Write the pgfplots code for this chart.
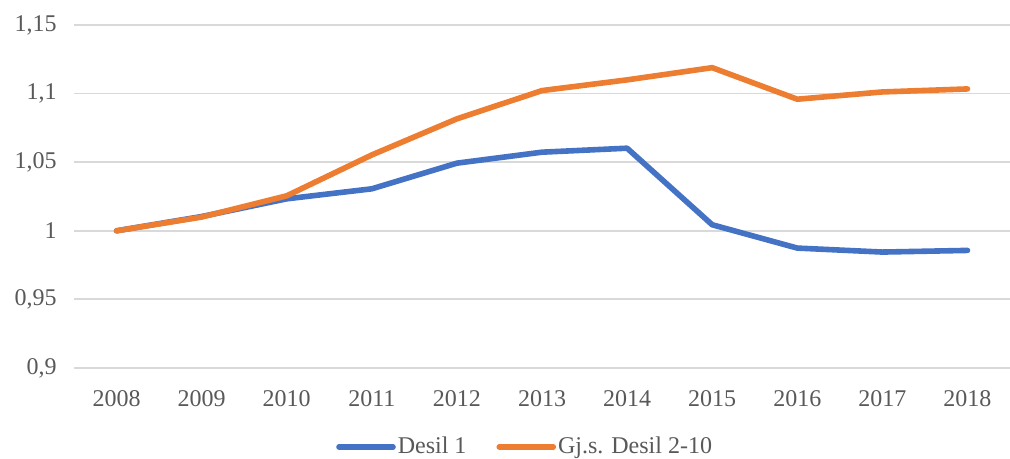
\documentclass[border=0pt]{standalone}
\usepackage{fontspec}
\setmainfont{Liberation Serif}
\usepackage{pgfplots}
\pgfplotsset{compat=1.18}
\definecolor{xlblue}{HTML}{4472C4}
\definecolor{xlorange}{HTML}{ED7D31}
\definecolor{xlgrid}{HTML}{D9D9D9}
\definecolor{xltext}{HTML}{595959}
\begin{document}
\begin{tikzpicture}
\useasboundingbox (-37pt,-45.5pt) rectangle (468pt,184pt);
\begin{axis}[
  scale only axis, width=468pt, height=171.5pt,
  xmin=-0.5, xmax=10.5, ymin=0.9, ymax=1.15,
  xtick={0,...,10},
  xticklabels={2008,2009,2010,2011,2012,2013,2014,2015,2016,2017,2018},
  ytick={0.9,0.95,1,1.05,1.1,1.15},
  yticklabels={{0,9},{0,95},1,{1,05},{1,1},{1,15}},
  major tick length=0pt,
  axis line style={draw=none},
  ymajorgrids, grid style={xlgrid, line width=0.9pt},
  tick label style={font=\fontsize{12}{14}\selectfont, text=xltext},
  yticklabel style={inner sep=0pt, xshift=-8.5pt},
  xticklabel style={inner sep=0pt, yshift=-11pt},
  legend style={draw=none, at={(0.482,-0.23)}, anchor=center,
    font=\fontsize{12}{14}\selectfont, text=xltext, column sep=0pt,
    inner sep=0pt,
    nodes={inner sep=1pt},
    /tikz/every even column/.append style={column sep=14pt}},
  legend columns=2,
  legend image code/.code={\draw[#1] (0pt,0pt) -- (27pt,0pt);},
]
\addplot[xlblue, line width=2.8pt, line cap=round, line join=round] coordinates {
  (0,1.0) (1,1.0104) (2,1.0233) (3,1.0306) (4,1.0493) (5,1.0573)
  (6,1.0602) (7,1.0044) (8,0.9874) (9,0.9845) (10,0.9857)
};
\addlegendentry{Desil 1}
\addplot[xlorange, line width=2.8pt, line cap=round, line join=round] coordinates {
  (0,1.0) (1,1.0100) (2,1.0255) (3,1.0553) (4,1.0816) (5,1.1022)
  (6,1.1100) (7,1.1189) (8,1.0959) (9,1.1012) (10,1.1034)
};
\addlegendentry{Gj.s. Desil 2-10}
\end{axis}
\end{tikzpicture}
\end{document}
